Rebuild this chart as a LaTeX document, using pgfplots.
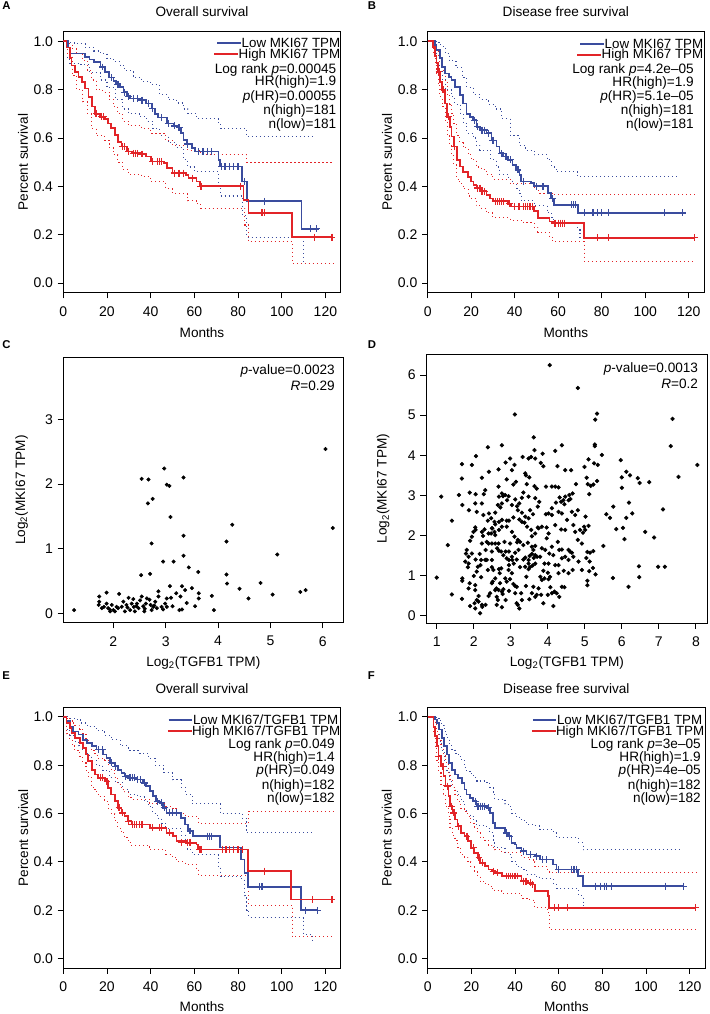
\documentclass[border=0pt]{standalone}
\usepackage{fontspec}
\setmainfont{Liberation Sans}
\usepackage{pgfplots}
\pgfplotsset{compat=1.18}
\definecolor{kmblue}{RGB}{58,76,158}
\definecolor{kmred}{RGB}{226,36,40}
\newcommand{\tf}{\fontsize{10.2}{12}\selectfont}
\newcommand{\lf}{\fontsize{10}{11}\selectfont}
\pgfplotsset{
  base/.style={scale only axis, axis line style={line width=0.7pt}, tick align=outside, tick pos=left,
    major tick length=4.2pt, every tick/.style={black, line width=0.7pt},
    tick label style={font=\fontsize{10.5}{12}\selectfont},
    /pgf/number format/assume math mode=true,
    label style={font=\tf}, title style={font=\tf},
    xticklabel style={yshift=-2.5pt}},
  km/.style={base, xmin=0, xmax=127, ymin=-0.04, ymax=1.04,
    xtick={0,20,40,60,80,100,120}, ytick={0,0.2,0.4,0.6,0.8,1},
    yticklabel style={/pgf/number format/.cd, fixed, fixed zerofill, precision=1},
    xlabel={Months}, ylabel={Percent survival}},
  curve/.style={const plot, line width=1.3pt, mark=none},
  cens/.style={only marks, mark=+, mark size=2.6pt, line width=0.9pt},
  ci/.style={const plot, line width=0.8pt, dash pattern=on 0.8pt off 2.2pt, mark=none},
  dots/.style={only marks, mark=*, mark size=1.3pt, black, mark options={draw=black, fill=black}},
}
\newcommand{\stat}[3]{\node[anchor=base east, inner sep=0pt, font=\tf] at (#1,{1014-#2}) {#3};}
\newcommand{\leg}[4]{\node[anchor=base east, inner sep=0pt, font=\lf] (L) at (#1,{1014-#2}) {#4};
  \draw[#3, line width=1.4pt] ([xshift=-18pt,yshift=3.3pt]L.base west) -- ([xshift=-0.2pt,yshift=3.3pt]L.base west);}
\newcommand{\plabel}[3]{\node[anchor=base west, inner sep=0pt, font=\bfseries\fontsize{8.5}{10}\selectfont] at (#1,{1014-#2}) {#3};}

\begin{document}
\begin{tikzpicture}[x=0.75pt, y=0.75pt]
\useasboundingbox (0,0) rectangle (710,1014);

% ---------------- A ----------------
\begin{axis}[km, at={(47.475pt,540.975pt)}, anchor=south west, width=208.05pt, height=195.75pt,
  title={Overall survival}, title style={at={(axis description cs:0.5,1.045)}, anchor=center},
  xlabel style={at={(axis description cs:0.5,-0.153)}, anchor=center},
  ylabel style={at={(axis description cs:-0.145,0.5)}, anchor=center}]
\addplot[ci, kmblue] coordinates {(0,1)(2,0.995)(5,0.99)(10,0.975)(14,0.96)(17,0.95)(20,0.93)(23,0.915)(26,0.90)(28,0.88)(32,0.85)(36,0.835)(40,0.82)(44,0.78)(48,0.76)(52,0.745)(55,0.72)(57,0.70)(61,0.68)(71,0.66)(72,0.64)(84,0.605)(115,0.605)};
\addplot[ci, kmblue] coordinates {(0,1)(2,0.93)(3,0.91)(8,0.905)(12,0.87)(17,0.84)(20,0.81)(24,0.76)(27,0.72)(30,0.70)(35,0.69)(38,0.67)(41,0.64)(44,0.61)(48,0.58)(52,0.56)(55,0.51)(57,0.48)(60,0.46)(71,0.40)(72,0.36)(81,0.36)(82,0.28)(84,0.19)(109,0.19)(110,0.08)(115,0.08)};
\addplot[ci, kmred] coordinates {(0,1)(2,0.99)(4,0.97)(6,0.95)(9,0.92)(11,0.88)(13,0.84)(15,0.80)(18,0.79)(21,0.76)(23,0.73)(25,0.70)(27,0.67)(30,0.65)(36,0.64)(40,0.62)(47,0.59)(50,0.57)(57,0.55)(63,0.53)(82,0.53)(84,0.50)(124,0.50)};
\addplot[ci, kmred] coordinates {(0,1)(2,0.94)(4,0.86)(6,0.80)(9,0.75)(11,0.70)(13,0.64)(15,0.61)(19,0.59)(21,0.56)(23,0.53)(25,0.50)(27,0.47)(30,0.45)(36,0.44)(40,0.42)(47,0.39)(50,0.37)(57,0.34)(61,0.33)(63,0.31)(82,0.31)(83,0.24)(85,0.17)(104,0.17)(105,0.08)(124,0.08)};
\addplot[curve, kmblue] coordinates {(0,1.0)(2,0.975)(3,0.95)(8,0.95)(10,0.935)(12,0.925)(14,0.915)(17,0.894)(19,0.874)(21,0.85)(23,0.835)(24,0.823)(26,0.81)(27.5,0.79)(29,0.773)(30.6,0.764)(35,0.757)(38,0.743)(40.5,0.722)(42,0.70)(43.5,0.685)(47.4,0.66)(50.4,0.65)(52,0.644)(54,0.62)(55,0.592)(56.6,0.575)(58.8,0.558)(60.4,0.544)(71,0.51)(71.8,0.482)(81.8,0.42)(84,0.338)(109,0.224)(117,0.224)};
\addplot[curve, kmred] coordinates {(0,1.0)(1.5,0.975)(3,0.93)(3.8,0.90)(5.3,0.874)(6.9,0.853)(8.4,0.832)(10,0.805)(11.5,0.77)(13,0.73)(14.5,0.70)(16.8,0.688)(19,0.68)(20.6,0.66)(22,0.64)(23.7,0.613)(25,0.585)(26.7,0.565)(29,0.544)(31.3,0.537)(35,0.534)(38,0.523)(40,0.503)(46,0.496)(47.4,0.475)(50,0.455)(56,0.448)(57.3,0.434)(61,0.42)(62.7,0.40)(82.5,0.345)(84.8,0.29)(104.7,0.19)(123.5,0.19)};
\addplot[cens, kmblue] coordinates {(18,0.894)(22,0.85)(25,0.823)(28,0.79)(30,0.773)(32,0.764)(34,0.764)(36,0.757)(39,0.743)(41,0.722)(45,0.685)(48,0.66)(51,0.65)(53,0.644)(57,0.575)(62,0.544)(64,0.544)(66,0.544)(68,0.544)(72.5,0.482)(74,0.482)(76,0.482)(78,0.482)(80,0.482)(83,0.42)(92,0.338)(113,0.224)(116,0.224)};
\addplot[cens, kmred] coordinates {(15,0.70)(17.5,0.688)(18.5,0.688)(27,0.565)(28,0.565)(30,0.544)(32,0.537)(33,0.537)(34,0.537)(36,0.534)(41,0.503)(43,0.503)(44,0.503)(45,0.503)(51,0.455)(53,0.455)(55,0.455)(59,0.434)(63,0.40)(81,0.40)(91,0.29)(92,0.29)(115,0.19)(123,0.19)};
\end{axis}
\leg{340.5}{47.7}{kmblue}{Low MKI67 TPM}
\leg{340.5}{58.3}{kmred}{High MKI67 TPM}
\stat{336.5}{73.3}{Log rank \textit{p}=0.00045}
\stat{336.5}{86}{HR(high)=1.9}
\stat{336.5}{100.7}{\textit{p}(HR)=0.00055}
\stat{336.5}{115}{n(high)=181}
\stat{336.5}{128.3}{n(low)=181}

% ---------------- B ----------------
\begin{axis}[km, at={(320.775pt,540.975pt)}, anchor=south west, width=207.2pt, height=195.75pt,
  title={Disease free survival}, title style={at={(axis description cs:0.5,1.045)}, anchor=center},
  xlabel style={at={(axis description cs:0.5,-0.153)}, anchor=center},
  ylabel style={at={(axis description cs:-0.147,0.5)}, anchor=center}]
\addplot[ci, kmblue] coordinates {(0,1)(4,0.995)(6,0.98)(8,0.95)(10,0.92)(13,0.89)(16,0.85)(18,0.81)(21,0.78)(24,0.76)(28,0.74)(31,0.72)(34,0.68)(38,0.61)(42,0.57)(45,0.55)(49,0.53)(55,0.51)(57,0.48)(59,0.46)(69,0.44)(116,0.44)};
\addplot[ci, kmblue] coordinates {(0,1)(3.4,0.96)(4,0.93)(5.6,0.88)(6.7,0.84)(8,0.80)(11,0.77)(12.5,0.74)(15,0.70)(16.3,0.66)(18,0.62)(21,0.60)(22.4,0.57)(24,0.55)(29,0.51)(31.6,0.48)(33,0.45)(37,0.43)(39,0.41)(41,0.39)(42,0.37)(43,0.34)(49,0.32)(55,0.29)(57,0.27)(58,0.25)(69,0.22)(70,0.19)(116,0.19)};
\addplot[ci, kmred] coordinates {(0,1)(2.6,0.99)(3.4,0.975)(4.1,0.96)(4.9,0.94)(5.6,0.91)(6.7,0.88)(8,0.83)(9,0.78)(10.2,0.74)(11,0.70)(12,0.66)(13.3,0.61)(14.8,0.58)(16.3,0.56)(18.6,0.53)(20,0.51)(22.4,0.48)(24.7,0.47)(27,0.45)(30,0.43)(38,0.41)(49,0.39)(51,0.37)(57.5,0.365)(123,0.365)};
\addplot[ci, kmred] coordinates {(0,1)(2.6,0.95)(3.4,0.90)(4.1,0.86)(4.9,0.82)(5.6,0.77)(6.7,0.73)(8,0.67)(9,0.61)(10.2,0.57)(11,0.53)(12,0.49)(13.3,0.43)(14.8,0.41)(16.3,0.39)(18.6,0.36)(20,0.35)(22.4,0.32)(24.7,0.31)(27,0.29)(30,0.27)(38,0.26)(44,0.25)(49,0.23)(50.6,0.21)(56,0.19)(57.5,0.17)(71.7,0.17)(72,0.09)(123,0.09)};
\addplot[curve, kmblue] coordinates {(0,1)(3.4,0.984)(4,0.963)(5.6,0.93)(6.7,0.894)(8,0.867)(9.8,0.853)(11,0.84)(12.5,0.81)(14.8,0.777)(16.3,0.743)(17.8,0.70)(19.4,0.688)(20.9,0.674)(22.4,0.647)(24,0.633)(27,0.62)(29.3,0.59)(31.6,0.565)(33,0.537)(34.6,0.523)(36.9,0.51)(39,0.489)(40.7,0.468)(42.2,0.448)(43,0.42)(47.6,0.413)(49,0.40)(55.2,0.372)(56.7,0.35)(58.2,0.324)(69,0.29)(117,0.29)};
\addplot[curve, kmred] coordinates {(0,1)(2.6,0.977)(3.4,0.94)(4.1,0.91)(4.9,0.874)(5.6,0.832)(6.7,0.80)(8,0.743)(9,0.688)(10.2,0.647)(11,0.606)(12,0.565)(13.3,0.51)(14.8,0.482)(16.3,0.46)(18.6,0.44)(20,0.42)(21,0.407)(22.4,0.393)(24.7,0.38)(27,0.365)(28.5,0.35)(30,0.338)(36.9,0.328)(38.4,0.317)(49,0.297)(50.6,0.27)(56,0.255)(57.5,0.248)(71.7,0.187)(122.5,0.187)};
\addplot[cens, kmblue] coordinates {(21.5,0.674)(23,0.647)(25,0.633)(26,0.633)(28,0.62)(30,0.59)(34,0.537)(36,0.523)(38,0.51)(41.5,0.468)(44,0.42)(50,0.40)(53,0.40)(57.5,0.35)(66,0.324)(67,0.324)(68,0.324)(72,0.29)(76,0.29)(78,0.29)(80,0.29)(83,0.29)(109,0.29)(117,0.29)};
\addplot[cens, kmred] coordinates {(5.2,0.874)(7,0.80)(9.5,0.688)(12.5,0.565)(23,0.393)(24,0.393)(25,0.38)(26,0.38)(31,0.338)(32,0.338)(33,0.338)(34,0.338)(35,0.338)(37.5,0.328)(40,0.317)(42,0.317)(44,0.317)(45,0.317)(46,0.317)(47,0.317)(48,0.317)(58.5,0.248)(60,0.248)(61,0.248)(62,0.248)(63,0.248)(78,0.187)(83,0.187)(122.5,0.187)};
\end{axis}
\leg{703.5}{48.3}{kmblue}{Low MKI67 TPM}
\leg{703.5}{59}{kmred}{High MKI67 TPM}
\stat{694}{74}{Log rank \textit{p}=4.2e{\textendash}05}
\stat{694}{86.7}{HR(high)=1.9}
\stat{694}{101}{\textit{p}(HR)=5.1e{\textendash}05}
\stat{694}{115}{n(high)=181}
\stat{694}{128.3}{n(low)=181}

% ---------------- C ----------------
\begin{axis}[base, at={(47.475pt,293.475pt)}, anchor=south west, width=210pt, height=199.05pt,
  xmin=1.044, xmax=6.39, ymin=-0.145, ymax=3.96, xtick={2,3,4,5,6}, ytick={0,1,2,3},
  xlabel={Log\textsubscript{2}(TGFB1 TPM)}, ylabel={Log\textsubscript{2}(MKI67 TPM)},
  xlabel style={at={(axis description cs:0.5,-0.152)}, anchor=center},
  ylabel style={at={(axis description cs:-0.149,0.5)}, anchor=center}]
\addplot[dots] table {
x y
1.25 0.05
6.05 2.54
6.19 1.32
2.97 2.24
2.54 2.08
2.67 2.07
3.34 2.10
3.02 1.99
3.07 1.97
2.66 1.70
2.75 1.77
3.09 1.49
2.73 1.08
3.34 1.20
4.27 1.37
4.16 1.11
5.13 0.91
2.95 0.80
3.15 0.80
3.34 0.89
3.44 0.71
3.62 0.64
4.16 0.60
2.53 0.59
2.70 0.61
4.17 0.46
4.41 0.38
4.58 0.23
4.81 0.47
5.04 0.29
5.57 0.33
5.67 0.36
3.88 0.27
3.92 0.05
3.63 0.31
3.63 0.23
3.50 0.39
3.31 0.42
3.37 0.36
3.08 0.42
3.10 0.24
3.20 0.31
3.28 0.26
3.40 0.16
3.56 0.11
3.13 0.11
2.86 0.34
2.86 0.26
3.02 0.23
3.02 0.10
3.26 0.05
3.31 0.06
1.73 0.26
1.73 0.18
1.72 0.13
1.78 0.08
1.87 0.32
1.87 0.15
1.90 0.08
1.94 0.03
2.00 0.05
1.97 0.13
2.06 0.10
2.11 0.30
2.16 0.10
2.22 0.03
2.25 0.13
2.29 0.24
2.32 0.05
2.35 0.15
2.38 0.22
2.39 0.10
2.45 0.15
2.48 0.08
2.51 0.20
2.54 0.26
2.57 0.11
2.59 0.03
2.62 0.15
2.64 0.23
2.69 0.21
2.71 0.13
2.76 0.10
2.80 0.18
2.83 0.08
2.92 0.10
2.99 0.15
2.03 0.03
1.82 0.10
2.19 0.18
2.41 0.03
2.73 0.05
1.93 0.06
2.09 0.08
2.27 0.09
2.44 0.11
2.60 0.07
2.78 0.12
2.95 0.06
};
\end{axis}
\stat{335}{375}{\textit{p}-value=0.0023}
\stat{335}{390.7}{\textit{R}=0.29}

% ---------------- D ----------------
\begin{axis}[base, at={(319.5pt,293.025pt)}, anchor=south west, width=211.3pt, height=201.75pt,
  xmin=0.71, xmax=8.32, ymin=-0.19, ymax=6.52, xtick={1,2,3,4,5,6,7,8}, ytick={0,1,2,3,4,5,6},
  xlabel={Log\textsubscript{2}(TGFB1 TPM)}, ylabel={Log\textsubscript{2}(MKI67 TPM)},
  xlabel style={at={(axis description cs:0.5,-0.148)}, anchor=center},
  ylabel style={at={(axis description cs:-0.152,0.5)}, anchor=center}]
\addplot[dots, mark size=1.4pt] table {
x y
4.05 6.25
4.81 5.68
3.11 5.02
5.33 5.04
5.28 4.89
7.37 4.91
7.32 4.23
8.04 3.76
7.53 3.46
7.11 2.65
6.98 1.22
7.16 1.22
6.87 1.95
6.63 2.09
6.47 0.96
6.46 1.23
6.18 0.72
6.28 2.55
6.19 2.82
6.07 1.91
6.03 2.19
6.12 2.44
5.85 2.16
5.76 0.94
5.77 2.72
5.68 2.44
5.58 2.53
5.50 1.74
5.97 3.88
6.00 3.19
6.00 3.45
6.12 3.59
6.22 3.50
6.43 3.43
6.48 3.31
6.74 3.33
5.46 4.01
5.27 4.27
5.27 4.23
5.25 3.80
5.35 3.76
5.33 3.36
4.99 3.71
5.05 3.44
5.08 3.28
5.16 3.24
5.12 3.03
5.10 3.90
5.02 2.47
4.98 2.22
4.95 2.07
5.07 1.59
5.14 1.57
5.23 1.61
5.04 1.44
5.13 1.35
5.12 1.11
5.22 1.19
5.29 1.03
5.07 0.87
5.07 0.76
5.23 3.27
3.86 4.04
4.20 4.11
4.38 4.25
4.26 3.73
4.47 3.63
4.63 3.63
3.88 3.73
3.81 3.81
3.95 3.22
4.11 3.22
4.20 3.22
4.29 3.20
4.76 3.28
4.67 3.05
4.58 3.01
4.47 2.97
4.42 2.88
4.32 2.95
4.56 2.88
4.36 2.84
4.45 2.78
4.61 2.91
4.22 2.82
4.11 2.68
4.29 2.59
4.38 2.55
4.02 2.55
3.95 2.53
4.11 2.51
4.65 2.59
4.74 2.51
4.81 2.63
4.69 2.26
4.52 2.39
4.47 2.14
4.36 2.15
4.20 2.26
3.97 2.20
3.84 2.22
3.75 2.18
4.74 2.09
3.97 1.93
4.02 2.05
4.27 1.84
4.38 1.65
4.31 1.64
4.56 1.64
4.60 1.60
4.65 1.57
4.69 1.47
4.38 1.43
4.47 1.47
4.56 1.39
4.83 1.35
4.20 1.26
4.02 1.30
4.29 1.06
4.43 1.12
4.00 1.07
4.06 0.97
4.02 0.91
3.84 0.89
3.91 0.93
4.38 0.72
4.45 0.71
4.07 0.71
4.18 0.60
4.24 0.56
4.31 0.47
4.11 0.56
4.00 0.52
3.82 0.52
3.88 0.31
4.15 0.24
3.66 0.47
3.70 0.52
3.50 0.41
3.57 0.56
3.61 0.72
3.41 0.74
3.42 0.97
3.48 1.16
3.39 1.22
3.52 1.21
3.59 1.25
3.66 1.30
3.48 1.30
3.62 1.44
3.71 1.47
3.57 1.54
3.51 1.49
3.66 1.51
3.39 1.45
3.34 1.40
3.48 1.39
3.61 1.64
3.57 1.72
3.66 1.74
3.84 1.68
3.46 1.82
3.57 1.98
3.66 2.05
3.73 2.20
3.55 2.14
3.44 2.22
3.39 2.47
3.48 2.43
3.60 2.53
3.30 2.57
3.52 2.63
3.73 2.72
3.77 2.84
3.66 2.93
3.48 2.97
3.34 3.07
3.70 3.17
3.64 3.23
3.43 3.28
3.39 3.55
3.41 3.50
3.50 3.45
3.48 3.92
3.55 3.96
3.66 3.92
3.62 4.45
3.64 4.13
3.32 3.96
3.03 3.63
3.10 3.76
2.98 3.92
2.76 4.25
2.86 3.82
2.38 4.20
2.06 3.98
1.95 3.76
1.68 3.78
1.68 3.42
2.41 3.59
2.67 3.65
2.89 3.40
3.14 3.34
3.07 3.27
2.22 3.44
1.60 3.01
1.89 3.07
2.05 3.03
2.31 3.13
2.27 3.03
2.67 3.22
2.76 3.05
2.79 2.98
2.85 3.01
2.94 2.98
2.68 2.97
2.65 2.76
2.72 2.70
2.76 2.80
2.90 2.88
3.12 2.90
3.03 2.76
3.17 2.73
3.19 2.63
3.30 2.94
3.23 2.80
2.58 2.57
2.41 2.55
2.47 2.43
2.56 2.34
2.68 2.34
2.76 2.39
2.89 2.37
2.95 2.37
3.07 2.45
3.23 2.40
3.30 2.34
3.37 2.32
3.03 2.09
3.10 1.97
3.19 1.89
3.25 1.84
3.17 1.83
3.34 1.76
2.58 2.28
2.49 2.18
2.68 2.14
2.58 2.01
2.47 2.05
2.29 2.15
2.22 2.09
2.25 1.99
2.05 2.14
1.99 2.09
2.04 2.20
2.22 1.80
2.35 1.84
2.40 1.80
2.49 1.80
2.58 1.80
2.67 1.80
2.63 1.68
2.68 1.62
2.74 1.60
2.80 1.51
2.86 1.60
2.95 1.60
3.03 1.47
3.12 1.57
3.21 1.64
2.89 1.43
2.95 1.39
3.04 1.39
3.16 1.40
2.49 1.60
2.49 1.39
2.20 1.39
2.35 1.39
1.86 1.47
1.95 1.55
1.81 1.64
1.90 1.87
1.79 1.55
1.77 1.35
1.86 1.30
1.84 1.21
1.30 1.76
1.41 2.37
1.87 2.63
1.69 2.76
1.12 2.97
1.00 0.95
1.41 0.53
1.69 0.93
1.69 0.87
1.68 0.42
1.90 0.24
2.04 0.18
2.02 0.31
2.08 0.39
2.13 0.35
2.17 0.06
2.22 0.27
2.04 0.76
2.04 0.64
2.08 1.10
2.11 1.22
2.18 1.26
2.20 0.96
2.31 1.39
2.32 0.27
2.40 0.49
2.38 1.14
2.44 0.56
2.49 0.81
2.49 1.21
2.51 0.85
2.53 1.14
2.58 0.93
2.58 0.64
2.61 0.68
2.62 0.27
2.65 0.39
2.67 0.64
2.68 1.16
2.70 1.06
2.74 1.18
2.76 0.60
2.76 0.21
2.78 0.54
2.80 0.66
2.85 0.93
2.89 0.85
2.94 1.14
2.95 1.26
2.98 0.91
3.03 1.06
3.08 1.30
3.12 0.74
3.16 0.72
3.12 0.56
3.16 0.31
3.19 0.27
3.23 0.18
3.28 0.56
3.25 1.21
2.76 2.22
2.89 2.22
2.38 2.37
2.26 2.51
2.08 2.59
2.22 2.80
2.04 2.80
2.50 2.18
2.56 2.09
1.95 1.97
2.40 2.05
2.83 1.84
2.98 1.80
2.32 1.64
2.16 1.54
2.05 1.40
2.00 0.99
1.89 0.81
1.86 0.68
2.13 0.49
2.23 0.22
2.62 0.47
2.71 0.81
2.86 0.39
2.95 0.62
3.07 0.79
3.30 0.39
3.75 0.68
3.80 0.97
3.88 1.12
3.91 1.30
3.79 1.47
3.93 1.64
4.11 1.72
4.04 1.55
4.15 1.51
4.56 1.06
4.67 1.14
4.29 1.26
4.92 1.14
4.92 1.80
4.81 1.89
5.01 2.14
4.87 2.14
5.10 2.24
};
\end{axis}
\stat{698.3}{372.7}{\textit{p}-value=0.0013}
\stat{698.3}{388.3}{\textit{R}=0.2}

% ---------------- E ----------------
\begin{axis}[km, at={(47.475pt,34.275pt)}, anchor=south west, width=208.05pt, height=195.75pt,
  title={Overall survival}, title style={at={(axis description cs:0.5,1.041)}, anchor=center},
  xlabel style={at={(axis description cs:0.5,-0.147)}, anchor=center},
  ylabel style={at={(axis description cs:-0.144,0.5)}, anchor=center}]
\addplot[ci, kmblue] coordinates {(0,1)(3,0.995)(5,0.99)(8,0.975)(11,0.96)(15,0.945)(19,0.925)(22,0.905)(26,0.88)(30,0.86)(35,0.85)(39,0.83)(42,0.80)(46,0.77)(50,0.74)(54,0.71)(56,0.68)(59,0.64)(71,0.64)(72,0.60)(82,0.58)(84,0.52)(114,0.52)};
\addplot[ci, kmblue] coordinates {(0,1)(1.5,0.95)(3,0.925)(5,0.90)(7,0.88)(9,0.86)(11,0.84)(13,0.82)(15,0.80)(18,0.78)(21,0.75)(24,0.73)(27,0.70)(30,0.68)(34,0.67)(37,0.65)(39,0.63)(41,0.60)(43,0.58)(45,0.56)(47,0.54)(54,0.51)(56,0.48)(57,0.45)(59,0.43)(71,0.38)(72,0.34)(81,0.33)(83,0.26)(84,0.20)(85,0.17)(109,0.17)(110,0.10)(114,0.07)};
\addplot[ci, kmred] coordinates {(0,1)(1.5,0.995)(3,0.985)(4,0.975)(5.3,0.965)(7.6,0.95)(9,0.93)(10.4,0.91)(11.4,0.89)(13,0.86)(14.5,0.84)(16,0.83)(19,0.82)(20.6,0.80)(22,0.78)(23.6,0.75)(25,0.72)(26.6,0.70)(28,0.69)(29.7,0.67)(31,0.66)(39.6,0.64)(47,0.63)(50,0.62)(52,0.60)(56,0.59)(61,0.58)(62,0.56)(84.5,0.56)(85,0.61)(124,0.61)};
\addplot[ci, kmred] coordinates {(0,1)(1.5,0.93)(3,0.905)(4,0.88)(5.3,0.86)(7.6,0.835)(9,0.81)(10.4,0.78)(11.4,0.75)(13,0.71)(14.5,0.69)(16,0.67)(19,0.65)(20.6,0.62)(22,0.60)(23.6,0.57)(25,0.54)(26.6,0.52)(28,0.50)(29.7,0.48)(31.2,0.47)(39.6,0.45)(47,0.43)(50,0.42)(52,0.40)(56,0.39)(61,0.37)(62,0.345)(84.5,0.345)(85,0.22)(104.3,0.22)(105,0.09)(124,0.09)};
\addplot[curve, kmblue] coordinates {(0,1)(1.5,0.982)(3,0.961)(4.6,0.94)(6.9,0.927)(9.1,0.906)(10.7,0.893)(13,0.879)(15.2,0.865)(18.3,0.845)(19.8,0.83)(21.3,0.81)(23.6,0.796)(25,0.782)(26.6,0.769)(28,0.755)(29.7,0.748)(33.5,0.741)(36.5,0.727)(38,0.713)(39.6,0.693)(41,0.672)(42.6,0.651)(44,0.645)(45.7,0.624)(47.2,0.603)(54,0.583)(55.6,0.555)(57,0.528)(59.4,0.507)(71.6,0.46)(81.5,0.41)(83,0.355)(84.5,0.297)(108.9,0.2)(116.5,0.2)};
\addplot[curve, kmred] coordinates {(0,1)(1.5,0.975)(3,0.955)(3.8,0.934)(5.3,0.913)(7.6,0.893)(9.1,0.872)(10.4,0.845)(11.4,0.817)(13,0.782)(14.5,0.762)(16,0.748)(19,0.734)(20.6,0.707)(22,0.679)(23.6,0.651)(25,0.624)(26.6,0.603)(28,0.589)(29.7,0.569)(31.2,0.555)(39.6,0.541)(47.2,0.52)(50.3,0.507)(51.8,0.486)(56.3,0.479)(61,0.472)(61.7,0.452)(84.5,0.362)(104.3,0.245)(123,0.245)};
\addplot[cens, kmblue] coordinates {(16,0.865)(18,0.865)(22,0.81)(24,0.796)(28.5,0.755)(30.5,0.748)(31.5,0.748)(32.5,0.748)(34,0.741)(35.5,0.741)(37,0.727)(43,0.651)(44.8,0.645)(46.5,0.624)(48.5,0.603)(50,0.603)(52,0.603)(58,0.528)(66,0.507)(67,0.507)(68,0.507)(90,0.297)(91,0.297)(111,0.2)(116.5,0.2)};
\addplot[cens, kmred] coordinates {(17,0.748)(18,0.748)(20,0.734)(25.5,0.624)(27,0.603)(30,0.569)(31.5,0.555)(32.5,0.555)(33.5,0.555)(35,0.555)(36,0.555)(41,0.541)(44,0.541)(45,0.541)(48.5,0.52)(54,0.479)(57,0.479)(58,0.479)(62.5,0.452)(63,0.452)(73,0.452)(74.5,0.452)(76,0.452)(78,0.452)(80,0.452)(82,0.452)(92,0.362)(114,0.245)(123,0.245)};
\end{axis}
\leg{338.5}{724.3}{kmblue}{Low MKI67/TGFB1 TPM}
\leg{340.5}{735.3}{kmred}{High MKI67/TGFB1 TPM}
\stat{335}{748.3}{Log rank \textit{p}=0.049}
\stat{335}{761.7}{HR(high)=1.4}
\stat{335}{775}{\textit{p}(HR)=0.049}
\stat{335}{789.3}{n(high)=182}
\stat{335}{802.7}{n(low)=182}

% ---------------- F ----------------
\begin{axis}[km, at={(320.775pt,34.275pt)}, anchor=south west, width=207.97pt, height=195.75pt,
  title={Disease free survival}, title style={at={(axis description cs:0.5,1.041)}, anchor=center},
  xlabel style={at={(axis description cs:0.5,-0.147)}, anchor=center},
  ylabel style={at={(axis description cs:-0.148,0.5)}, anchor=center}]
\addplot[ci, kmblue] coordinates {(0,1)(3.4,0.999)(4.1,0.995)(5.2,0.985)(6.4,0.965)(7.6,0.94)(8.7,0.915)(9.8,0.89)(11,0.865)(12.5,0.85)(14,0.835)(15.6,0.82)(16.8,0.79)(17.8,0.775)(19.4,0.765)(20.9,0.75)(22.4,0.735)(27,0.73)(28.5,0.71)(30,0.68)(30.8,0.66)(35.4,0.64)(36.9,0.63)(38.4,0.60)(40.7,0.585)(43,0.57)(45.3,0.555)(49,0.55)(51.4,0.535)(57.5,0.52)(59,0.50)(69,0.48)(71.2,0.45)(116,0.45)};
\addplot[ci, kmblue] coordinates {(0,1)(3.4,0.97)(4.1,0.94)(5.2,0.90)(6.4,0.86)(7.6,0.82)(8.7,0.78)(9.8,0.74)(11,0.71)(12.5,0.69)(14,0.67)(15.6,0.65)(16.8,0.62)(17.8,0.60)(19.4,0.59)(20.9,0.57)(22.4,0.55)(27,0.54)(28.5,0.52)(30,0.48)(30.8,0.46)(35.4,0.44)(36.9,0.43)(38.4,0.40)(40.7,0.38)(43,0.37)(45.3,0.35)(49,0.34)(51.4,0.33)(57.5,0.31)(59,0.29)(69,0.26)(71.2,0.22)(72,0.21)(116,0.21)};
\addplot[ci, kmred] coordinates {(0,1)(2.6,0.99)(3.4,0.97)(4.1,0.94)(4.9,0.91)(6.1,0.88)(7.2,0.84)(8.2,0.81)(9.5,0.77)(10.2,0.74)(11.3,0.71)(12.5,0.68)(13.7,0.65)(15.2,0.62)(16.8,0.61)(18.3,0.59)(19.8,0.56)(21.3,0.54)(22.9,0.52)(24,0.50)(26.2,0.49)(27.8,0.47)(29.3,0.46)(30.8,0.45)(33.9,0.44)(43,0.42)(46,0.41)(48.3,0.40)(49.1,0.38)(55,0.36)(55.7,0.355)(123,0.355)};
\addplot[ci, kmred] coordinates {(0,1)(2.6,0.93)(3.4,0.87)(4.1,0.82)(4.9,0.77)(6.1,0.72)(7.2,0.68)(8.2,0.63)(9.5,0.59)(10.2,0.54)(11.3,0.51)(12.5,0.49)(13.7,0.46)(15.2,0.43)(16.8,0.42)(18.3,0.40)(19.8,0.38)(21.3,0.36)(22.9,0.34)(24,0.32)(26.2,0.31)(27.8,0.30)(29.3,0.29)(30.8,0.28)(33.9,0.27)(43,0.25)(46,0.245)(48.3,0.24)(49.1,0.21)(55,0.19)(55.7,0.12)(123,0.12)};
\addplot[curve, kmblue] coordinates {(0,1)(3.4,0.989)(4.1,0.975)(5.2,0.948)(6.4,0.913)(7.6,0.879)(8.7,0.845)(9.8,0.81)(11,0.782)(12.5,0.762)(14,0.748)(15.6,0.727)(16.8,0.70)(17.8,0.679)(19.4,0.665)(20.9,0.651)(22.4,0.631)(27,0.624)(28.5,0.603)(30,0.562)(30.8,0.541)(35.4,0.52)(36.9,0.507)(38.4,0.479)(40,0.472)(40.7,0.459)(43,0.445)(45.3,0.431)(49,0.424)(51.4,0.41)(57.5,0.39)(59,0.369)(68.9,0.342)(71.2,0.30)(117,0.30)};
\addplot[curve, kmred] coordinates {(0,1)(2.6,0.961)(3.4,0.92)(4.1,0.879)(4.9,0.838)(6.1,0.796)(7.2,0.755)(8.2,0.714)(9.5,0.672)(10.2,0.631)(11.3,0.603)(12.5,0.576)(13.7,0.548)(15.2,0.52)(16.8,0.507)(18.3,0.486)(19.8,0.459)(21.3,0.438)(22.9,0.417)(24,0.397)(26.2,0.383)(27.8,0.369)(29.3,0.362)(30.8,0.355)(33.9,0.342)(43,0.321)(46,0.314)(48.3,0.307)(49.1,0.28)(55,0.259)(55.7,0.211)(122.6,0.211)};
\addplot[cens, kmblue] coordinates {(22,0.651)(23,0.631)(24,0.631)(25,0.631)(26,0.631)(28,0.624)(36,0.52)(37.5,0.507)(44,0.445)(47,0.431)(50,0.424)(52.5,0.41)(54.5,0.41)(60,0.369)(66,0.369)(67,0.369)(68,0.369)(77,0.30)(79,0.30)(81,0.30)(82,0.30)(84,0.30)(109,0.30)(117,0.30)};
\addplot[cens, kmred] coordinates {(5,0.838)(7,0.796)(9,0.714)(11,0.631)(12,0.603)(14,0.548)(18,0.507)(21,0.459)(23.5,0.417)(25,0.397)(30,0.362)(32,0.355)(36,0.342)(37,0.342)(38,0.342)(39,0.342)(40,0.342)(41,0.342)(44,0.321)(45,0.321)(47,0.314)(48,0.307)(58,0.211)(60,0.211)(64,0.211)(122.6,0.211)};
\end{axis}
\leg{702.5}{724.3}{kmblue}{Low MKI67/TGFB1 TPM}
\leg{704.5}{735.3}{kmred}{High MKI67/TGFB1 TPM}
\stat{701}{748.3}{Log rank \textit{p}=3e{\textendash}05}
\stat{701}{761.7}{HR(high)=1.9}
\stat{701}{775}{\textit{p}(HR)=4e{\textendash}05}
\stat{701}{789.3}{n(high)=182}
\stat{701}{802.7}{n(low)=182}

% panel letters
\plabel{2}{10}{A}
\plabel{367.5}{10}{B}
\plabel{2}{348.3}{C}
\plabel{367.5}{348.3}{D}
\plabel{2}{680}{E}
\plabel{367.5}{680}{F}
\end{tikzpicture}
\end{document}
